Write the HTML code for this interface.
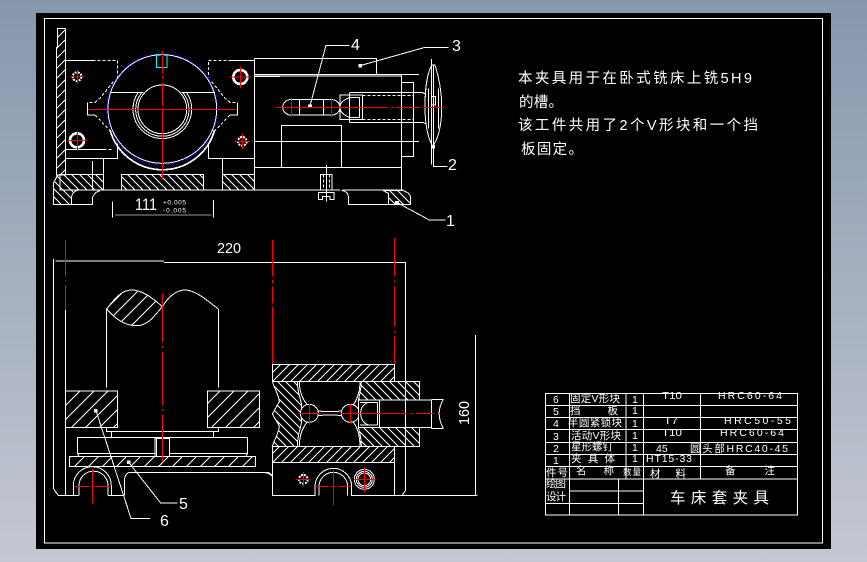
<!DOCTYPE html>
<html><head><meta charset="utf-8"><style>
html,body{margin:0;padding:0;width:867px;height:562px;overflow:hidden;background:linear-gradient(#8797ae,#c4c8d2)}
svg{position:absolute;left:0;top:0}
text{font-family:"Liberation Sans","WenQuanYi Zen Hei","Noto Sans CJK SC",sans-serif;fill:#fff;stroke:none}
.l path,.l line,.l rect,.l circle,.l polyline{fill:none;stroke:#fff;stroke-width:3}
.l .d{stroke-dasharray:9 6}
.l .r{stroke:#f00}
.l .b{stroke:#00f;stroke-dasharray:9 6}
.l .c{stroke:#0ff}
.l .h1{fill:url(#h1)}
.l .h2{fill:url(#h2)}
.l .h3{fill:url(#h3)}
.l .h4{fill:url(#h4)}
.l .k{fill:#000}
.l .w8{stroke-width:8}
.l .w6{stroke-width:6;stroke-dasharray:6 3}
</style></head><body>
<svg width="867" height="562" viewBox="0 0 867 562" shape-rendering="crispEdges">
<defs>
<pattern id="h1" width="30" height="30" patternUnits="userSpaceOnUse"><path d="M-3,33 L33,-3 M-18,18 L18,-18 M12,48 L48,12" stroke="#fff" stroke-width="3"/></pattern>
<pattern id="h2" width="24" height="24" patternUnits="userSpaceOnUse"><path d="M-3,-3 L27,27 M-15,9 L15,39 M9,-15 L39,15" stroke="#fff" stroke-width="3"/></pattern>
<pattern id="h3" width="42" height="42" patternUnits="userSpaceOnUse"><path d="M-3,45 L45,-3 M-24,24 L24,-24 M18,66 L66,18" stroke="#fff" stroke-width="3"/></pattern>
<pattern id="h4" width="27" height="27" patternUnits="userSpaceOnUse"><path d="M-3,30 L30,-3 M-17,17 L17,-17 M10,44 L44,10" stroke="#fff" stroke-width="3"/></pattern>
</defs>
<rect x="36" y="13" width="795" height="536" fill="#000"/>
<rect x="44.5" y="18.5" width="778" height="524.5" fill="none" stroke="#fff"/>

<!-- top left view -->
<g class="l" transform="translate(40 15) scale(.33333)">
<path class="h1" d="M52,40H76V480H49V97H52Z"/>
<path d="M76,136H158"/><path class="d" d="M158,136H232V190M220,200L180,250L165,262H142"/>
<path d="M142,262V300H165"/><path class="d" d="M165,300L215,352"/>
<path d="M76,403H190"/><path class="d" d="M190,403H218"/>
<path d="M232,385V430H76M190,430V525M76,430V480M157,438V525"/>
<path d="M575,136H643M505,385V430H643M547,430V525M643,130V525M643,130H720M643,178H720M643,184H720M643,379H720M643,457H720"/>
<path class="d" d="M575,136H505V190M515,200L555,250L570,262H593"/>
<path d="M593,262V300H570"/><path class="d" d="M570,300L520,352"/>
<circle class="b" cx="367" cy="283" r="167"/>
<circle cx="367" cy="282" r="163"/>
<path d="M210,345A163,163 0 0 0 524,345" style="stroke-width:5"/>
<circle cx="367" cy="283" r="73"/>
<path d="M295,232A88,88 0 1 0 439,232M306,232A80,80 0 1 0 428,232M212,232H310M425,232H525"/>
<rect class="c" x="349" y="118" width="32" height="40"/>
<circle class="w6" cx="111" cy="185" r="13"/>
<circle class="w8" cx="111" cy="376" r="21"/>
<circle class="w8" cx="601" cy="186" r="21"/>
<circle class="w6" cx="607" cy="379" r="13"/>
<path class="r" d="M92,185H132M113,165V207M83,376H141M112,348V406M570,186H633M601,155V219M585,379H630M607,356V402"/>
<rect class="h2" x="60" y="478" width="130" height="47"/>
<rect class="h2" x="244" y="478" width="246" height="47"/>
<rect class="h2" x="547" y="478" width="96" height="47"/>
<path class="h2" d="M52,482L40,505V568H95V545Q97,530 115,525H190L190,478H60Z"/>
<path d="M95,568H157V548Q165,530 180,527M110,525H720"/>
<path d="M217,560V607M520,555V607"/>
<path d="M225,600H515" style="stroke:#999"/>
</g>
<text x="135" y="210" font-size="17" textLength="22" lengthAdjust="spacingAndGlyphs">111</text>
<text x="163" y="204.500" font-size="6.500" textLength="23">+0.005</text>
<text x="163" y="212.500" font-size="6.500" textLength="23">-0.005</text>

<!-- top right view -->
<g class="l" transform="translate(240 25) scale(.33333)">
<path d="M43,100H410V148M43,100V495M43,148H537M43,153H485M485,148V495M43,349H537M43,427H485M0,495H300M308,495H490"/>
<rect x="124" y="301" width="180" height="126"/>
<rect x="485" y="172" width="36" height="223"/>
<path d="M160,224H250M160,270H250"/>
<path d="M155,224H275A24,24 0 0 1 300,247A24,24 0 0 1 275,270H155A24,24 0 0 1 128,247A24,24 0 0 1 155,224Z"/>
<path d="M179,225V269M251,225V269"/>
<rect x="300" y="210" width="68" height="74"/>
<rect x="328" y="218" width="30" height="59"/>
<path d="M328,218Q298,230 300,247Q300,266 328,277"/>
<path d="M328,203H548L556,207M328,292H548L556,296M328,203V218M328,277V292"/>
<path class="d" d="M368,211H520M368,284H520"/>
<path d="M575,120C560,150 555,190 555,247C555,300 565,340 578,365C595,340 605,300 605,247C605,190 595,150 585,120Z"/>
<path d="M566,190V310M595,190V310M575,102V418M581,120V370"/>
<rect x="575" y="215" width="12" height="25"/>
<rect x="241" y="448" width="35" height="47"/>
<path d="M235,502H282V524H270V515H247V524H235ZM259,420V530"/>
<path class="d" d="M250,448V495M268,448V495"/>
<path d="M305,496Q325,500 325,515V539H512"/>
<path class="h2" d="M445,539V505L430,497H490Q512,505 512,520V539Z"/>
<path d="M210,243L258,61H328M360,122L555,67H625M580,365V424H622M470,532L568,585H617"/>
<rect x="206" y="240" width="8" height="8" style="fill:#fff;stroke:#fff"/>
<rect x="357" y="118" width="8" height="8" style="fill:#fff;stroke:#fff"/>
<rect x="576" y="361" width="8" height="8" style="fill:#fff;stroke:#fff"/>
<rect x="467" y="529" width="8" height="6" style="fill:#fff;stroke:#fff"/>
<path class="r" d="M155,218V276M275,218V276"/>
</g>
<text x="351" y="50" font-size="16">4</text>
<text x="452" y="51" font-size="16">3</text>
<text x="448" y="170" font-size="16">2</text>
<text x="446" y="226" font-size="16">1</text>

<!-- bottom view left -->
<g class="l" transform="translate(40 235) scale(.33333)">
<path d="M40,72V760L55,782H115M46,78H372M372,82H1095M76,225V782"/>
<path class="r" d="M76,15V125M76,135V140M76,150V225M697,15V125M697,135V145M697,155V205M697,215V388"/>
<path class="h3" d="M200,222C225,190 245,165 275,165C305,165 340,190 367,215C345,240 325,272 290,272C255,272 230,255 200,222Z"/>
<path d="M367,215C385,185 410,165 435,165C465,165 500,195 535,222M200,222V458M535,222V458"/>
<rect class="h3" x="76" y="468" width="157" height="110"/>
<rect class="h3" x="502" y="468" width="157" height="110"/>
<path d="M199,578V590H535V578M214,590V607M520,590V607"/>
<rect x="112" y="607" width="511" height="48"/>
<rect class="h3" x="89" y="664" width="558" height="31"/>
<path d="M112,655L118,664M623,655L617,664"/>
<rect class="k" x="345" y="610" width="43" height="54"/>
<path d="M350,610V664"/>
<path d="M270,712H680Q692,712 697,725V782H720M253,782V740Q253,715 270,712"/>
<path d="M100,782V752A57,57 0 0 1 214,752V782M117,782V752A40,40 0 0 1 204,752V782M204,782H250"/>
<path d="M168,527L273,850H330M266,682L362,804H412"/>
<rect x="163" y="524" width="8" height="7" style="fill:#fff;stroke:#fff"/>
<rect x="262" y="678" width="8" height="7" style="fill:#fff;stroke:#fff"/>
<path class="r" d="M105,755H150M154,755H160M165,755H210M157,702V805"/>
</g>
<text x="217" y="253" font-size="15" textLength="24" lengthAdjust="spacingAndGlyphs">220</text>
<text x="179" y="509" font-size="16">5</text>
<text x="160" y="526" font-size="16">6</text>

<!-- bottom view right -->
<g class="l" transform="translate(260 340) scale(.33333)">
<path class="r" d="M403,-306V-190M403,-178V-172M403,-160V-40M403,-28V-22M403,-10V124"/>
<rect class="h4" x="37" y="73" width="366" height="51"/>
<rect class="h4" x="37" y="319" width="366" height="48"/>
<path class="h2" d="M37,124H112C112,160 125,180 125,200L122,220L125,240C125,260 112,280 112,319H37C45,295 58,275 58,258L37,222L58,185C58,170 45,150 37,124Z"/>
<path class="h2" d="M304,124H478V180H295C300,160 304,145 304,124Z"/>
<path class="h2" d="M295,262H478V319H304C304,300 300,280 295,262Z"/>
<path d="M118,124C118,160 130,180 142,195M300,124C300,160 290,180 280,195M118,319C118,280 130,260 142,246M300,319C300,280 290,260 280,246M172,212C190,216 230,216 248,212M172,228C190,224 230,224 248,228"/>
<circle class="k" cx="148" cy="220" r="27"/>
<circle class="k" cx="271" cy="220" r="27"/>
<rect class="k" x="295" y="180" width="220" height="82"/>
<path class="d" d="M295,180H515M295,262H515"/>
<path d="M295,180V262M352,187V255M358,180V262M300,187H352M300,255H352M515,178V265M515,178H550M515,265H550M550,178Q525,220 550,265M352,187H325Q302,195 302,220Q302,245 325,255"/>
<path d="M37,367V466H165V440A55,55 0 0 1 275,440V466H652M403,367V466M177,466V440A43,43 0 0 1 263,440V466M437,-234V450L427,466M647,-15V466M0,397Q30,397 37,410"/>
<circle class="w6" cx="130" cy="418" r="13"/>
<circle cx="313" cy="418" r="30"/><circle cx="313" cy="418" r="24"/><circle cx="313" cy="418" r="19"/>
<path class="r" d="M115,220H183M148,190V254M238,220H440M452,220H460M470,220H522M271,190V250M108,418H150M130,396V440M280,418H347M313,381V456M168,439H205M213,439H226M234,439H272M220,390V495"/>
</g>
<text transform="translate(469 425) rotate(-90)" font-size="15" textLength="24" lengthAdjust="spacingAndGlyphs">160</text>

<!-- pixel-aligned red centre lines -->
<path fill="none" stroke="#f00" stroke-width="1" d="M162.500,51V73M162.500,76V79M162.500,83V106M162.500,109V180M88,109.500H237M276,107.500H388M391,107.500H394M396,107.500H419M423,107.500H444M162.500,293V342M162.500,346V348M162.500,352V405M162.500,409V411M162.500,415V462"/>

<!-- note -->
<text x="518" y="83" font-size="14.500" textLength="234">本夹具用于在卧式铣床上铣5H9</text>
<text x="519" y="107" font-size="14.500" textLength="44">的槽。</text>
<text x="518" y="130" font-size="14.500" textLength="240">该工件共用了2个V形块和一个挡</text>
<text x="521" y="154" font-size="14.500" textLength="62">板固定。</text>

<!-- title block -->
<g class="l" transform="translate(540 385) scale(.33333)">
<rect x="17" y="26" width="756" height="364"/>
<path d="M17,62H773M17,98H773M17,134H773M17,172H773M17,208H773M17,245H773M17,282H773M88,318H311M17,355H311M88,26V390M258,26V282M311,26V390M482,26V282M236,282V390"/>
</g>
<g font-size="10.500">
<text x="553" y="403" font-size="10">6</text><text x="553" y="415">5</text><text x="553" y="427">4</text><text x="553" y="440">3</text><text x="553" y="452">2</text><text x="553" y="464">1</text>
<text x="570" y="402" textLength="50">固定V形块</text>
<text x="570" y="414" textLength="48" lengthAdjust="spacing">挡　　板</text>
<text x="568" y="426" textLength="54">半圆紧锁块</text>
<text x="571" y="439" textLength="50">活动V形块</text>
<text x="571" y="450" textLength="42">星形螺钉</text>
<text x="571" y="462" textLength="44">夹　具　体</text>
<text x="632" y="403">1</text><text x="632" y="414">1</text><text x="632" y="427">1</text><text x="632" y="439">1</text><text x="632" y="451">1</text><text x="632" y="462">1</text>
<text x="546" y="476" textLength="22">件号</text>
<text x="576" y="474" textLength="38">名　称</text>
<text x="623" y="475" font-size="8.500" textLength="18">数量</text>
<text x="650" y="477" textLength="36">材　料</text>
<text x="725" y="474" textLength="50">备　　注</text>
<text x="546" y="487" textLength="20">绘图</text>
<text x="546" y="500" textLength="20">设计</text>
<text x="662" y="399" textLength="20" lengthAdjust="spacingAndGlyphs">T10</text>
<text x="718" y="399" textLength="64">HRC60-64</text>
<text x="664" y="424" textLength="14" lengthAdjust="spacingAndGlyphs">T7</text>
<text x="724" y="424" textLength="67">HRC50-55</text>
<text x="662" y="436" textLength="20" lengthAdjust="spacingAndGlyphs">T10</text>
<text x="720" y="436" textLength="64">HRC60-64</text>
<text x="656" y="452">45</text>
<text x="690" y="452" textLength="98">圆头部HRC40-45</text>
<text x="646" y="462" textLength="46">HT15-33</text>
</g>
<text x="670" y="503" font-size="15.500" textLength="99" lengthAdjust="spacing">车床套夹具</text>
</svg>
</body></html>
